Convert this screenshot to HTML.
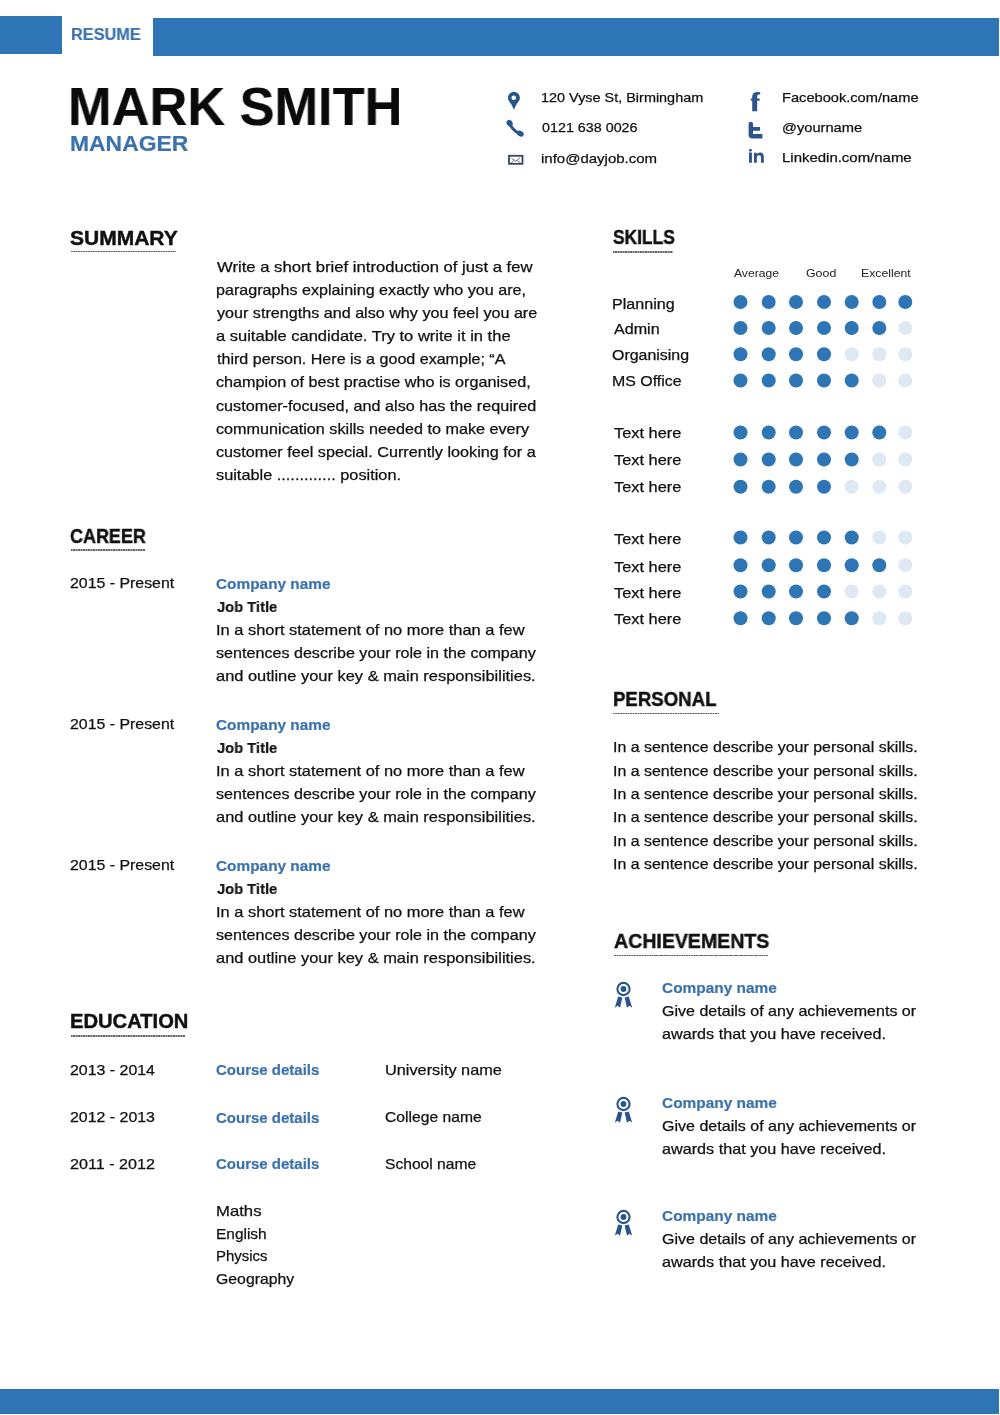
<!DOCTYPE html>
<html><head><meta charset="utf-8"><title>Resume</title>
<style>
html,body{margin:0;padding:0;background:#fff;-webkit-font-smoothing:antialiased;}
body{width:1000px;height:1415px;position:relative;overflow:hidden;font-family:"Liberation Sans",sans-serif;}
.t{position:absolute;white-space:nowrap;transform-origin:0 0;will-change:transform;-webkit-text-stroke:0.25px currentColor;}
.bar{position:absolute;background:#2E75B6;}
.ul{position:absolute;height:1.4px;background:repeating-linear-gradient(90deg,#666 0,#666 1.5px,#aaa 1.5px,#aaa 2.5px);}
svg{position:absolute;left:0;top:0;}
</style></head><body>
<div class="bar" style="left:0;top:16px;width:62px;height:38px"></div>
<div class="bar" style="left:153px;top:18px;width:846px;height:38px"></div>
<div class="bar" style="left:0;top:1389px;width:999px;height:25px"></div>
<svg width="1000" height="1415" viewBox="0 0 1000 1415">
<circle cx="740.5" cy="302" r="7" fill="#2E75B6"/><circle cx="768.7" cy="302" r="7" fill="#2E75B6"/><circle cx="796" cy="302" r="7" fill="#2E75B6"/><circle cx="824" cy="302" r="7" fill="#2E75B6"/><circle cx="851.7" cy="302" r="7" fill="#2E75B6"/><circle cx="879.3" cy="302" r="7" fill="#2E75B6"/><circle cx="905.3" cy="302" r="7" fill="#2E75B6"/><circle cx="740.5" cy="328" r="7" fill="#2E75B6"/><circle cx="768.7" cy="328" r="7" fill="#2E75B6"/><circle cx="796" cy="328" r="7" fill="#2E75B6"/><circle cx="824" cy="328" r="7" fill="#2E75B6"/><circle cx="851.7" cy="328" r="7" fill="#2E75B6"/><circle cx="879.3" cy="328" r="7" fill="#2E75B6"/><circle cx="905.3" cy="328" r="7" fill="#DFE9F3"/><circle cx="740.5" cy="354.2" r="7" fill="#2E75B6"/><circle cx="768.7" cy="354.2" r="7" fill="#2E75B6"/><circle cx="796" cy="354.2" r="7" fill="#2E75B6"/><circle cx="824" cy="354.2" r="7" fill="#2E75B6"/><circle cx="851.7" cy="354.2" r="7" fill="#DFE9F3"/><circle cx="879.3" cy="354.2" r="7" fill="#DFE9F3"/><circle cx="905.3" cy="354.2" r="7" fill="#DFE9F3"/><circle cx="740.5" cy="380.5" r="7" fill="#2E75B6"/><circle cx="768.7" cy="380.5" r="7" fill="#2E75B6"/><circle cx="796" cy="380.5" r="7" fill="#2E75B6"/><circle cx="824" cy="380.5" r="7" fill="#2E75B6"/><circle cx="851.7" cy="380.5" r="7" fill="#2E75B6"/><circle cx="879.3" cy="380.5" r="7" fill="#DFE9F3"/><circle cx="905.3" cy="380.5" r="7" fill="#DFE9F3"/><circle cx="740.5" cy="432.5" r="7" fill="#2E75B6"/><circle cx="768.7" cy="432.5" r="7" fill="#2E75B6"/><circle cx="796" cy="432.5" r="7" fill="#2E75B6"/><circle cx="824" cy="432.5" r="7" fill="#2E75B6"/><circle cx="851.7" cy="432.5" r="7" fill="#2E75B6"/><circle cx="879.3" cy="432.5" r="7" fill="#2E75B6"/><circle cx="905.3" cy="432.5" r="7" fill="#DFE9F3"/><circle cx="740.5" cy="459.5" r="7" fill="#2E75B6"/><circle cx="768.7" cy="459.5" r="7" fill="#2E75B6"/><circle cx="796" cy="459.5" r="7" fill="#2E75B6"/><circle cx="824" cy="459.5" r="7" fill="#2E75B6"/><circle cx="851.7" cy="459.5" r="7" fill="#2E75B6"/><circle cx="879.3" cy="459.5" r="7" fill="#DFE9F3"/><circle cx="905.3" cy="459.5" r="7" fill="#DFE9F3"/><circle cx="740.5" cy="486.8" r="7" fill="#2E75B6"/><circle cx="768.7" cy="486.8" r="7" fill="#2E75B6"/><circle cx="796" cy="486.8" r="7" fill="#2E75B6"/><circle cx="824" cy="486.8" r="7" fill="#2E75B6"/><circle cx="851.7" cy="486.8" r="7" fill="#DFE9F3"/><circle cx="879.3" cy="486.8" r="7" fill="#DFE9F3"/><circle cx="905.3" cy="486.8" r="7" fill="#DFE9F3"/><circle cx="740.5" cy="537.5" r="7" fill="#2E75B6"/><circle cx="768.7" cy="537.5" r="7" fill="#2E75B6"/><circle cx="796" cy="537.5" r="7" fill="#2E75B6"/><circle cx="824" cy="537.5" r="7" fill="#2E75B6"/><circle cx="851.7" cy="537.5" r="7" fill="#2E75B6"/><circle cx="879.3" cy="537.5" r="7" fill="#DFE9F3"/><circle cx="905.3" cy="537.5" r="7" fill="#DFE9F3"/><circle cx="740.5" cy="565.2" r="7" fill="#2E75B6"/><circle cx="768.7" cy="565.2" r="7" fill="#2E75B6"/><circle cx="796" cy="565.2" r="7" fill="#2E75B6"/><circle cx="824" cy="565.2" r="7" fill="#2E75B6"/><circle cx="851.7" cy="565.2" r="7" fill="#2E75B6"/><circle cx="879.3" cy="565.2" r="7" fill="#2E75B6"/><circle cx="905.3" cy="565.2" r="7" fill="#DFE9F3"/><circle cx="740.5" cy="591.5" r="7" fill="#2E75B6"/><circle cx="768.7" cy="591.5" r="7" fill="#2E75B6"/><circle cx="796" cy="591.5" r="7" fill="#2E75B6"/><circle cx="824" cy="591.5" r="7" fill="#2E75B6"/><circle cx="851.7" cy="591.5" r="7" fill="#DFE9F3"/><circle cx="879.3" cy="591.5" r="7" fill="#DFE9F3"/><circle cx="905.3" cy="591.5" r="7" fill="#DFE9F3"/><circle cx="740.5" cy="618.2" r="7" fill="#2E75B6"/><circle cx="768.7" cy="618.2" r="7" fill="#2E75B6"/><circle cx="796" cy="618.2" r="7" fill="#2E75B6"/><circle cx="824" cy="618.2" r="7" fill="#2E75B6"/><circle cx="851.7" cy="618.2" r="7" fill="#2E75B6"/><circle cx="879.3" cy="618.2" r="7" fill="#DFE9F3"/><circle cx="905.3" cy="618.2" r="7" fill="#DFE9F3"/>
<path d="M513.9,109.8 Q512.2,105 509.3,101.6 A6,6 0 1 1 518.5,101.6 Q515.6,105 513.9,109.8 Z" fill="#2A558C"/><circle cx="513.7" cy="97.8" r="2.3" fill="#fff"/><path d="M509.8,123.5 Q512,130 520,134" stroke="#2A558C" stroke-width="3" fill="none" stroke-linecap="round"/><ellipse cx="509.6" cy="123.2" rx="2.9" ry="3.4" transform="rotate(-35 509.6 123.2)" fill="#2A558C"/><ellipse cx="520.3" cy="133.6" rx="3.6" ry="2.7" transform="rotate(30 520.3 133.6)" fill="#2A558C"/><rect x="509" y="155.8" width="13.5" height="8" fill="none" stroke="#34475f" stroke-width="1.8"/><path d="M511.5,158.5 L515.8,161 L520,158 M511,163 L514,160.5 M520.5,163 L517.5,160.5" stroke="#5a6a80" stroke-width="0.9" fill="none"/><path d="M752.2,111.2 L752.2,97 Q752.2,92 757.5,92 L760.2,92.3 L760.2,94.6 L758.4,94.6 Q757.2,94.6 757.2,96.2 L757.2,111.2 Z" fill="#2A558C"/><rect x="750.6" y="98.4" width="9.2" height="2.4" rx="1" fill="#2A558C"/><path d="M748.6,123.5 Q748.6,121.8 750.8,121.8 Q753,121.8 753,123.5 L753,127 L760,127 L760,130.7 L753,130.7 L753,134.1 L762.4,134.1 L762.4,138.6 L752.5,138.6 Q748.6,138.6 748.6,134.5 Z" fill="#2A558C"/><rect x="749" y="148.9" width="2.9" height="2.6" rx="1.2" fill="#2A558C"/><rect x="749" y="152.5" width="2.9" height="10.2" fill="#2A558C"/><path d="M754,162.7 L754,152.7 L756.8,152.7 L756.8,154 Q758,152.5 760,152.5 Q763.8,152.5 763.8,156.5 L763.8,162.7 L761,162.7 L761,157 Q761,155.3 759.2,155.3 Q756.8,155.3 756.8,157.5 L756.8,162.7 Z" fill="#2A558C"/><g><circle cx="623.5" cy="989" r="6.1" fill="none" stroke="#2A558C" stroke-width="2.1"/><circle cx="623.5" cy="989" r="2.9" fill="#2A558C"/><path d="M618.2,996.5 L622.4,997.6 L620,1007.8 L617.6,1005.8 L614.8,1007.8 Z" fill="#2A558C"/><path d="M628.8,996.5 L624.6,997.6 L627,1007.8 L629.4,1005.8 L632.2,1007.8 Z" fill="#2A558C"/></g><g><circle cx="623.5" cy="1104" r="6.1" fill="none" stroke="#2A558C" stroke-width="2.1"/><circle cx="623.5" cy="1104" r="2.9" fill="#2A558C"/><path d="M618.2,1111.5 L622.4,1112.6 L620,1122.8 L617.6,1120.8 L614.8,1122.8 Z" fill="#2A558C"/><path d="M628.8,1111.5 L624.6,1112.6 L627,1122.8 L629.4,1120.8 L632.2,1122.8 Z" fill="#2A558C"/></g><g><circle cx="623.5" cy="1217" r="6.1" fill="none" stroke="#2A558C" stroke-width="2.1"/><circle cx="623.5" cy="1217" r="2.9" fill="#2A558C"/><path d="M618.2,1224.5 L622.4,1225.6 L620,1235.8 L617.6,1233.8 L614.8,1235.8 Z" fill="#2A558C"/><path d="M628.8,1224.5 L624.6,1225.6 L627,1235.8 L629.4,1233.8 L632.2,1235.8 Z" fill="#2A558C"/></g>
</svg>
<div class="ul" style="left:71px;top:250.7px;width:105px"></div><div class="ul" style="left:71px;top:549.2px;width:74px"></div><div class="ul" style="left:71px;top:1035.2px;width:114px"></div><div class="ul" style="left:613px;top:251.2px;width:60px"></div><div class="ul" style="left:613px;top:712.5px;width:106px"></div><div class="ul" style="left:614px;top:954.7px;width:154px"></div>
<div class="t" style="left:70.56px;top:25.67px;font-size:17.4px;line-height:17.4px;transform:scaleX(0.9384);color:#3A72AD;font-weight:700;-webkit-text-stroke:0.2px currentColor">RESUME</div>
<div class="t" style="left:68.05px;top:79.77px;font-size:53.3px;line-height:53.3px;transform:scaleX(0.9820);color:#0a0a0a;font-weight:700;-webkit-text-stroke:0.2px currentColor">MARK SMITH</div>
<div class="t" style="left:70px;top:131.51px;font-size:22.9px;line-height:22.9px;transform:scaleX(1.0000);color:#3A72AD;font-weight:700;-webkit-text-stroke:0.2px currentColor">MANAGER</div>
<div class="t" style="left:540.88px;top:91.98px;font-size:12.9px;line-height:12.9px;transform:scaleX(1.1189);color:#111111">120 Vyse St, Birmingham</div>
<div class="t" style="left:542px;top:121.88px;font-size:12.9px;line-height:12.9px;transform:scaleX(1.1105);color:#111111">0121 638 0026</div>
<div class="t" style="left:540.84px;top:152.98px;font-size:12.9px;line-height:12.9px;transform:scaleX(1.1633);color:#111111">info@dayjob.com</div>
<div class="t" style="left:781.87px;top:92.48px;font-size:12.9px;line-height:12.9px;transform:scaleX(1.1345);color:#111111">Facebook.com/name</div>
<div class="t" style="left:781.86px;top:121.68px;font-size:12.9px;line-height:12.9px;transform:scaleX(1.1377);color:#111111">@yourname</div>
<div class="t" style="left:781.84px;top:151.78px;font-size:12.9px;line-height:12.9px;transform:scaleX(1.1600);color:#111111">Linkedin.com/name</div>
<div class="t" style="left:69.95px;top:227.87px;font-size:20px;line-height:20px;transform:scaleX(1.0495);color:#111111;font-weight:700;-webkit-text-stroke:0.2px currentColor;-webkit-text-stroke:0.45px currentColor">SUMMARY</div>
<div class="t" style="left:217.2px;top:260.29px;font-size:14.3px;line-height:14.3px;transform:scaleX(1.1653);color:#111111">Write a short brief introduction of just a few</div>
<div class="t" style="left:216.07px;top:283.33px;font-size:14.3px;line-height:14.3px;transform:scaleX(1.1275);color:#111111">paragraphs explaining exactly who you are,</div>
<div class="t" style="left:217.2px;top:306.37px;font-size:14.3px;line-height:14.3px;transform:scaleX(1.1286);color:#111111">your strengths and also why you feel you are</div>
<div class="t" style="left:216.05px;top:329.41px;font-size:14.3px;line-height:14.3px;transform:scaleX(1.1547);color:#111111">a suitable candidate. Try to write it in the</div>
<div class="t" style="left:217.2px;top:352.45px;font-size:14.3px;line-height:14.3px;transform:scaleX(1.1237);color:#111111">third person. Here is a good example; “A</div>
<div class="t" style="left:216.07px;top:375.49px;font-size:14.3px;line-height:14.3px;transform:scaleX(1.1312);color:#111111">champion of best practise who is organised,</div>
<div class="t" style="left:216.07px;top:398.53px;font-size:14.3px;line-height:14.3px;transform:scaleX(1.1317);color:#111111">customer-focused, and also has the required</div>
<div class="t" style="left:216.07px;top:421.57px;font-size:14.3px;line-height:14.3px;transform:scaleX(1.1322);color:#111111">communication skills needed to make every</div>
<div class="t" style="left:216.07px;top:444.61px;font-size:14.3px;line-height:14.3px;transform:scaleX(1.1335);color:#111111">customer feel special. Currently looking for a</div>
<div class="t" style="left:216.06px;top:467.65px;font-size:14.3px;line-height:14.3px;transform:scaleX(1.1413);color:#111111">suitable ............. position.</div>
<div class="t" style="left:70.1px;top:526.47px;font-size:20px;line-height:20px;transform:scaleX(0.8976);color:#111111;font-weight:700;-webkit-text-stroke:0.2px currentColor;-webkit-text-stroke:0.45px currentColor">CAREER</div>
<div class="t" style="left:69.89px;top:576.29px;font-size:14.3px;line-height:14.3px;transform:scaleX(1.1108);color:#111111">2015 - Present</div>
<div class="t" style="left:216.17px;top:576px;font-size:15px;line-height:15px;transform:scaleX(1.0255);color:#3A72AD;font-weight:700;-webkit-text-stroke:0.2px currentColor">Company name</div>
<div class="t" style="left:217.2px;top:598.7px;font-size:15px;line-height:15px;transform:scaleX(0.9803);color:#111111;font-weight:700;-webkit-text-stroke:0.2px currentColor">Job Title</div>
<div class="t" style="left:216.05px;top:622.69px;font-size:14.3px;line-height:14.3px;transform:scaleX(1.1485);color:#111111">In a short statement of no more than a few</div>
<div class="t" style="left:216.07px;top:645.79px;font-size:14.3px;line-height:14.3px;transform:scaleX(1.1272);color:#111111">sentences describe your role in the company</div>
<div class="t" style="left:216.05px;top:668.79px;font-size:14.3px;line-height:14.3px;transform:scaleX(1.1493);color:#111111">and outline your key &amp; main responsibilities.</div>
<div class="t" style="left:69.89px;top:717.29px;font-size:14.3px;line-height:14.3px;transform:scaleX(1.1108);color:#111111">2015 - Present</div>
<div class="t" style="left:216.17px;top:717px;font-size:15px;line-height:15px;transform:scaleX(1.0255);color:#3A72AD;font-weight:700;-webkit-text-stroke:0.2px currentColor">Company name</div>
<div class="t" style="left:217.2px;top:739.7px;font-size:15px;line-height:15px;transform:scaleX(0.9803);color:#111111;font-weight:700;-webkit-text-stroke:0.2px currentColor">Job Title</div>
<div class="t" style="left:216.05px;top:763.69px;font-size:14.3px;line-height:14.3px;transform:scaleX(1.1485);color:#111111">In a short statement of no more than a few</div>
<div class="t" style="left:216.07px;top:786.79px;font-size:14.3px;line-height:14.3px;transform:scaleX(1.1272);color:#111111">sentences describe your role in the company</div>
<div class="t" style="left:216.05px;top:809.79px;font-size:14.3px;line-height:14.3px;transform:scaleX(1.1493);color:#111111">and outline your key &amp; main responsibilities.</div>
<div class="t" style="left:69.89px;top:858.29px;font-size:14.3px;line-height:14.3px;transform:scaleX(1.1108);color:#111111">2015 - Present</div>
<div class="t" style="left:216.17px;top:858px;font-size:15px;line-height:15px;transform:scaleX(1.0255);color:#3A72AD;font-weight:700;-webkit-text-stroke:0.2px currentColor">Company name</div>
<div class="t" style="left:217.2px;top:880.7px;font-size:15px;line-height:15px;transform:scaleX(0.9803);color:#111111;font-weight:700;-webkit-text-stroke:0.2px currentColor">Job Title</div>
<div class="t" style="left:216.05px;top:904.69px;font-size:14.3px;line-height:14.3px;transform:scaleX(1.1485);color:#111111">In a short statement of no more than a few</div>
<div class="t" style="left:216.07px;top:927.79px;font-size:14.3px;line-height:14.3px;transform:scaleX(1.1272);color:#111111">sentences describe your role in the company</div>
<div class="t" style="left:216.05px;top:950.79px;font-size:14.3px;line-height:14.3px;transform:scaleX(1.1493);color:#111111">and outline your key &amp; main responsibilities.</div>
<div class="t" style="left:69.99px;top:1011.07px;font-size:20px;line-height:20px;transform:scaleX(1.0087);color:#111111;font-weight:700;-webkit-text-stroke:0.2px currentColor;-webkit-text-stroke:0.45px currentColor">EDUCATION</div>
<div class="t" style="left:69.89px;top:1062.79px;font-size:14.3px;line-height:14.3px;transform:scaleX(1.1133);color:#111111">2013 - 2014</div>
<div class="t" style="left:216px;top:1062.2px;font-size:15px;line-height:15px;transform:scaleX(1.0000);color:#3A72AD;font-weight:700;-webkit-text-stroke:0.2px currentColor">Course details</div>
<div class="t" style="left:385.06px;top:1062.79px;font-size:14.3px;line-height:14.3px;transform:scaleX(1.1406);color:#111111">University name</div>
<div class="t" style="left:69.89px;top:1110.29px;font-size:14.3px;line-height:14.3px;transform:scaleX(1.1133);color:#111111">2012 - 2013</div>
<div class="t" style="left:216px;top:1109.7px;font-size:15px;line-height:15px;transform:scaleX(1.0000);color:#3A72AD;font-weight:700;-webkit-text-stroke:0.2px currentColor">Course details</div>
<div class="t" style="left:385.1px;top:1110.29px;font-size:14.3px;line-height:14.3px;transform:scaleX(1.0966);color:#111111">College name</div>
<div class="t" style="left:69.87px;top:1156.79px;font-size:14.3px;line-height:14.3px;transform:scaleX(1.1284);color:#111111">2011 - 2012</div>
<div class="t" style="left:216px;top:1156.2px;font-size:15px;line-height:15px;transform:scaleX(1.0000);color:#3A72AD;font-weight:700;-webkit-text-stroke:0.2px currentColor">Course details</div>
<div class="t" style="left:385.11px;top:1156.79px;font-size:14.3px;line-height:14.3px;transform:scaleX(1.0927);color:#111111">School name</div>
<div class="t" style="left:215.83px;top:1203.79px;font-size:14.3px;line-height:14.3px;transform:scaleX(1.1684);color:#111111">Maths</div>
<div class="t" style="left:215.92px;top:1226.79px;font-size:14.3px;line-height:14.3px;transform:scaleX(1.0800);color:#111111">English</div>
<div class="t" style="left:215.95px;top:1249.29px;font-size:14.3px;line-height:14.3px;transform:scaleX(1.0458);color:#111111">Physics</div>
<div class="t" style="left:215.89px;top:1272.29px;font-size:14.3px;line-height:14.3px;transform:scaleX(1.1057);color:#111111">Geography</div>
<div class="t" style="left:612.73px;top:226.97px;font-size:20px;line-height:20px;transform:scaleX(0.8696);color:#111111;font-weight:700;-webkit-text-stroke:0.2px currentColor;-webkit-text-stroke:0.45px currentColor">SKILLS</div>
<div class="t" style="left:734.4px;top:268.02px;font-size:10.6px;line-height:10.6px;transform:scaleX(1.1436);color:#111111;-webkit-text-stroke:0;color:#222">Average</div>
<div class="t" style="left:806.4px;top:268.02px;font-size:10.6px;line-height:10.6px;transform:scaleX(1.1680);color:#111111;-webkit-text-stroke:0;color:#222">Good</div>
<div class="t" style="left:861.24px;top:268.02px;font-size:10.6px;line-height:10.6px;transform:scaleX(1.1571);color:#111111;-webkit-text-stroke:0;color:#222">Excellent</div>
<div class="t" style="left:612.33px;top:297.52px;font-size:13.8px;line-height:13.8px;transform:scaleX(1.1673);color:#111111">Planning</div>
<div class="t" style="left:613.5px;top:323.22px;font-size:13.8px;line-height:13.8px;transform:scaleX(1.1667);color:#111111">Admin</div>
<div class="t" style="left:612.35px;top:348.72px;font-size:13.8px;line-height:13.8px;transform:scaleX(1.1538);color:#111111">Organising</div>
<div class="t" style="left:612.35px;top:375.22px;font-size:13.8px;line-height:13.8px;transform:scaleX(1.1525);color:#111111">MS Office</div>
<div class="t" style="left:613.5px;top:427.42px;font-size:13.8px;line-height:13.8px;transform:scaleX(1.1875);color:#111111">Text here</div>
<div class="t" style="left:613.5px;top:454.12px;font-size:13.8px;line-height:13.8px;transform:scaleX(1.1875);color:#111111">Text here</div>
<div class="t" style="left:613.5px;top:481.32px;font-size:13.8px;line-height:13.8px;transform:scaleX(1.1875);color:#111111">Text here</div>
<div class="t" style="left:613.5px;top:532.52px;font-size:13.8px;line-height:13.8px;transform:scaleX(1.1875);color:#111111">Text here</div>
<div class="t" style="left:613.5px;top:560.52px;font-size:13.8px;line-height:13.8px;transform:scaleX(1.1875);color:#111111">Text here</div>
<div class="t" style="left:613.5px;top:586.92px;font-size:13.8px;line-height:13.8px;transform:scaleX(1.1875);color:#111111">Text here</div>
<div class="t" style="left:613.5px;top:613.32px;font-size:13.8px;line-height:13.8px;transform:scaleX(1.1875);color:#111111">Text here</div>
<div class="t" style="left:612.67px;top:689.07px;font-size:20px;line-height:20px;transform:scaleX(0.9309);color:#111111;font-weight:700;-webkit-text-stroke:0.2px currentColor;-webkit-text-stroke:0.45px currentColor">PERSONAL</div>
<div class="t" style="left:612.89px;top:740.29px;font-size:14.3px;line-height:14.3px;transform:scaleX(1.1144);color:#111111">In a sentence describe your personal skills.</div>
<div class="t" style="left:612.89px;top:763.61px;font-size:14.3px;line-height:14.3px;transform:scaleX(1.1144);color:#111111">In a sentence describe your personal skills.</div>
<div class="t" style="left:612.89px;top:786.93px;font-size:14.3px;line-height:14.3px;transform:scaleX(1.1144);color:#111111">In a sentence describe your personal skills.</div>
<div class="t" style="left:612.89px;top:810.25px;font-size:14.3px;line-height:14.3px;transform:scaleX(1.1144);color:#111111">In a sentence describe your personal skills.</div>
<div class="t" style="left:612.89px;top:833.57px;font-size:14.3px;line-height:14.3px;transform:scaleX(1.1144);color:#111111">In a sentence describe your personal skills.</div>
<div class="t" style="left:612.89px;top:856.89px;font-size:14.3px;line-height:14.3px;transform:scaleX(1.1144);color:#111111">In a sentence describe your personal skills.</div>
<div class="t" style="left:614.32px;top:930.57px;font-size:20px;line-height:20px;transform:scaleX(0.9777);color:#111111;font-weight:700;-webkit-text-stroke:0.2px currentColor;-webkit-text-stroke:0.45px currentColor">ACHIEVEMENTS</div>
<div class="t" style="left:662.37px;top:979.7px;font-size:15px;line-height:15px;transform:scaleX(1.0282);color:#3A72AD;font-weight:700;-webkit-text-stroke:0.2px currentColor">Company name</div>
<div class="t" style="left:662.08px;top:1003.59px;font-size:14.3px;line-height:14.3px;transform:scaleX(1.1221);color:#111111">Give details of any achievements or</div>
<div class="t" style="left:662.07px;top:1026.79px;font-size:14.3px;line-height:14.3px;transform:scaleX(1.1316);color:#111111">awards that you have received.</div>
<div class="t" style="left:662.37px;top:1094.7px;font-size:15px;line-height:15px;transform:scaleX(1.0282);color:#3A72AD;font-weight:700;-webkit-text-stroke:0.2px currentColor">Company name</div>
<div class="t" style="left:662.08px;top:1118.59px;font-size:14.3px;line-height:14.3px;transform:scaleX(1.1221);color:#111111">Give details of any achievements or</div>
<div class="t" style="left:662.07px;top:1141.79px;font-size:14.3px;line-height:14.3px;transform:scaleX(1.1316);color:#111111">awards that you have received.</div>
<div class="t" style="left:662.37px;top:1207.7px;font-size:15px;line-height:15px;transform:scaleX(1.0282);color:#3A72AD;font-weight:700;-webkit-text-stroke:0.2px currentColor">Company name</div>
<div class="t" style="left:662.08px;top:1231.59px;font-size:14.3px;line-height:14.3px;transform:scaleX(1.1221);color:#111111">Give details of any achievements or</div>
<div class="t" style="left:662.07px;top:1254.79px;font-size:14.3px;line-height:14.3px;transform:scaleX(1.1316);color:#111111">awards that you have received.</div>
</body></html>
